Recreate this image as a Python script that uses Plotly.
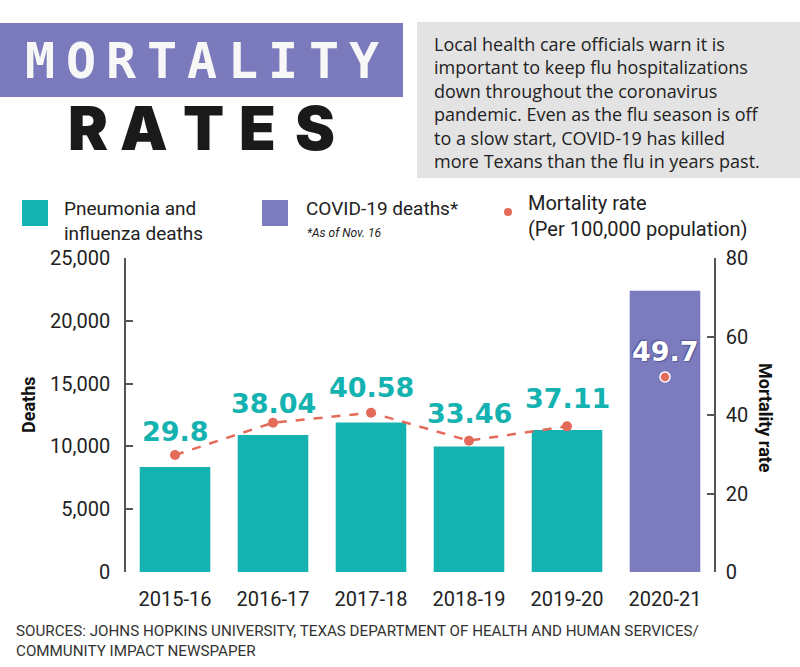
import plotly.graph_objects as go

# ---- data ----
seasons = ["2015-16", "2016-17", "2017-18", "2018-19", "2019-20", "2020-21"]
flu_deaths = [8350, 10900, 11900, 10000, 11300]          # 2015-16 .. 2019-20
covid_deaths = [22400]                                      # 2020-21 (as of Nov. 16)
mortality_rate = [29.8, 38.04, 40.58, 33.46, 37.11, 49.7]   # per 100,000
left_ticks = [0, 5000, 10000, 15000, 20000, 25000]
right_ticks = [0, 20, 40, 60, 80]

TEAL = "#14b2b1"
PURPLE = "#7b7bbd"
RED = "#e46a59"
FONT = "Roboto, 'Noto Sans', sans-serif"
label_shift = [24, 19, 25, 27, 28, 25]   # vertical offsets (px) of value labels

# plot-area pixel geometry (for converting decoration positions to paper coords)
L, R, T, B = 126, 714, 258, 572
W, H = 800, 667


def px(x):
    return (x - L) / (R - L)


def py(y):
    return (B - y) / (B - T)


fig = go.Figure()

fig.add_trace(go.Bar(x=seasons[:5], y=flu_deaths, marker_color=TEAL,
                     marker_line_width=0, showlegend=False))
fig.add_trace(go.Bar(x=seasons[5:], y=covid_deaths, marker_color=PURPLE,
                     marker_line_width=0, showlegend=False))
fig.add_trace(go.Scatter(x=seasons[:5], y=mortality_rate[:5], yaxis="y2",
                         mode="lines+markers",
                         line=dict(color=RED, width=2.5, dash="dash"),
                         marker=dict(color=RED, size=10), showlegend=False))
fig.add_trace(go.Scatter(x=seasons[5:], y=mortality_rate[5:], yaxis="y2",
                         mode="markers", marker=dict(color=RED, size=10,
                                                     line=dict(color="white", width=1.5)),
                         showlegend=False))

annotations = []
shapes = []

# value labels above the mortality points
for i, (s, v) in enumerate(zip(seasons, mortality_rate)):
    annotations.append(dict(
        x=s, y=v, xref="x", yref="y2", text=str(v), showarrow=False,
        yshift=label_shift[i], yanchor="middle",
        font=dict(family="'DejaVu Sans', sans-serif", size=27, weight="bold",
                  color="white" if i == 5 else TEAL,
                  shadow="1px 1px 1px #55559a, -1px -1px 1px #55559a" if i == 5 else "none")))

# ---- header ----
shapes.append(dict(type="rect", xref="paper", yref="paper", layer="below",
                   x0=px(0), x1=px(403), y0=py(97), y1=py(23),
                   fillcolor="#7a7abd", line_width=0))
shapes.append(dict(type="rect", xref="paper", yref="paper", layer="below",
                   x0=px(417), x1=px(800), y0=py(178), y1=py(22),
                   fillcolor="#e3e3e3", line_width=0))

for i, ch in enumerate("MORTALITY"):
    annotations.append(dict(x=px(40 + 40.5 * i), y=py(61), xref="paper", yref="paper",
                            text=ch, showarrow=False, xanchor="center", yanchor="middle",
                            font=dict(family="'DejaVu Sans Mono', monospace", size=50,
                                      weight="bold", color="#f7f7f7")))

for ch, cx in zip("RATES", [88, 144, 203, 257, 315]):
    annotations.append(dict(x=px(cx), y=py(128), xref="paper", yref="paper",
                            text=ch, showarrow=False, xanchor="center", yanchor="middle",
                            font=dict(family="Inter, 'Liberation Sans', sans-serif", size=60,
                                      weight=900, color="#1a1a1a")))

intro = ("Local health care officials warn it is<br>"
         "important to keep flu hospitalizations<br>"
         "down throughout the coronavirus<br>"
         "pandemic. Even as the flu season is off<br>"
         "to a slow start, COVID-19 has killed<br>"
         "more Texans than the flu in years past.")
annotations.append(dict(x=px(432), y=py(102.5), xref="paper", yref="paper", text=intro,
                        showarrow=False, xanchor="left", yanchor="middle", align="left",
                        font=dict(family="'Open Sans', 'Noto Sans', sans-serif",
                                  size=18, color="#222222")))

# ---- custom legend ----
shapes.append(dict(type="rect", xref="paper", yref="paper",
                   x0=px(22), x1=px(48), y0=py(226), y1=py(200),
                   fillcolor=TEAL, line_width=0))
shapes.append(dict(type="rect", xref="paper", yref="paper",
                   x0=px(262), x1=px(288), y0=py(226), y1=py(200),
                   fillcolor=PURPLE, line_width=0))
shapes.append(dict(type="circle", xref="paper", yref="paper",
                   x0=px(504), x1=px(512), y0=py(216), y1=py(208),
                   fillcolor=RED, line_width=0))

annotations.append(dict(x=px(62), y=py(221), xref="paper", yref="paper",
                        text="Pneumonia and<br>influenza deaths", showarrow=False,
                        xanchor="left", yanchor="middle", align="left",
                        font=dict(family=FONT, size=19, color="#222222")))
annotations.append(dict(x=px(304), y=py(209), xref="paper", yref="paper",
                        text="COVID-19 deaths*", showarrow=False,
                        xanchor="left", yanchor="middle", align="left",
                        font=dict(family=FONT, size=19, color="#222222")))
annotations.append(dict(x=px(305), y=py(233), xref="paper", yref="paper",
                        text="<i>*As of Nov. 16</i>", showarrow=False,
                        xanchor="left", yanchor="middle", align="left",
                        font=dict(family=FONT, size=12, color="#222222")))
annotations.append(dict(x=px(526), y=py(216), xref="paper", yref="paper",
                        text="Mortality rate<br>(Per 100,000 population)", showarrow=False,
                        xanchor="left", yanchor="middle", align="left",
                        font=dict(family=FONT, size=20, color="#222222")))

# ---- axis titles ----
annotations.append(dict(x=px(28), y=py(405), xref="paper", yref="paper", text="<b>Deaths</b>",
                        showarrow=False, textangle=-90, xanchor="center", yanchor="middle",
                        font=dict(family=FONT, size=18, color="#111111")))
annotations.append(dict(x=px(766), y=py(418), xref="paper", yref="paper",
                        text="<b>Mortality rate</b>", showarrow=False, textangle=90,
                        xanchor="center", yanchor="middle",
                        font=dict(family=FONT, size=18, color="#111111")))

# ---- sources ----
annotations.append(dict(x=px(14), y=py(641), xref="paper", yref="paper",
                        text=("SOURCES: JOHNS HOPKINS UNIVERSITY, TEXAS DEPARTMENT OF HEALTH AND HUMAN SERVICES/<br>"
                              "COMMUNITY IMPACT NEWSPAPER"),
                        showarrow=False, xanchor="left", yanchor="middle", align="left",
                        font=dict(family="'Liberation Sans Narrow', Roboto, sans-serif",
                                  size=15.2, color="#333333")))

axis_common = dict(showgrid=False, zeroline=False, showline=True, linecolor="#555555",
                   linewidth=1.5, ticks="inside", ticklen=7, tickcolor="#555555",
                   tickwidth=1.5, tickfont=dict(family=FONT, size=20, color="#222222"))

fig.update_layout(
    width=W, height=H, autosize=False,
    margin=dict(l=L, r=W - R, t=T, b=H - B, pad=0),
    paper_bgcolor="white", plot_bgcolor="white",
    barmode="overlay", bargap=0.28,
    showlegend=False,
    xaxis=dict(type="category", categoryorder="array", categoryarray=seasons,
               showgrid=False, zeroline=False, showline=False, ticks="",
               tickfont=dict(family=FONT, size=20, color="#222222"),
               ticklabelstandoff=13),
    yaxis=dict(range=[0, 25000], tickvals=left_ticks, tickformat=",",
               ticklabelstandoff=10, **axis_common),
    yaxis2=dict(range=[0, 80], tickvals=right_ticks, overlaying="y", side="right",
                ticklabelstandoff=6, **axis_common),
    annotations=annotations,
    shapes=shapes,
)

fig.write_html("out.html")
